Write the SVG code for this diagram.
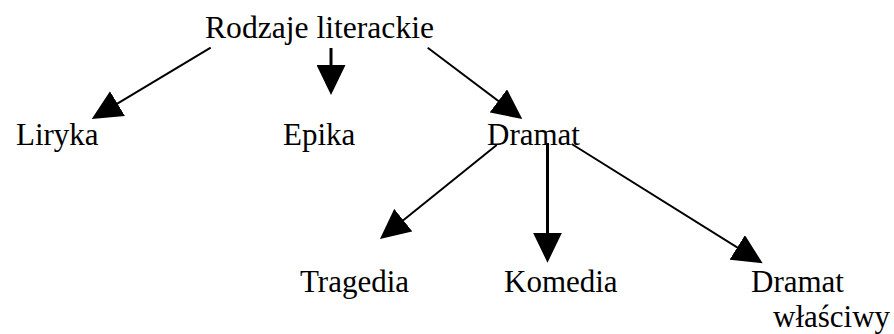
<svg xmlns="http://www.w3.org/2000/svg" width="894" height="334" viewBox="0 0 894 334">
<style>
text { font-family: "Liberation Serif", "Times New Roman", serif; font-size: 31px; fill: #000; }
.c { stroke: #000; stroke-width: 2; fill: none; marker-end: url(#ah); }
.v { stroke-width: 3; }
</style>
<defs>
<marker id="ah" markerUnits="userSpaceOnUse" markerWidth="30" markerHeight="29" refX="22" refY="14.5" orient="auto" viewBox="0 0 30 29">
<path d="M0,0 L30,14.5 L0,29 z" fill="#000"/>
</marker>
</defs>
<rect width="894" height="334" fill="#fff"/>
<g id="connectors">
<path class="c" d="M210.7,47.7 L98.6,114.9"/>
<path class="c v" d="M331,48 L331,87"/>
<path class="c" d="M427.7,47.7 L515.9,114.2"/>
<path class="c" d="M496.7,145 L386.2,234"/>
<path class="c v" d="M547.5,143 L547.5,254.7"/>
<path class="c" d="M571.7,144 L755.9,259.1"/>
</g>
<g id="rodzaje"><text x="205" y="38" textLength="229" lengthAdjust="spacingAndGlyphs">Rodzaje literackie</text></g>
<g id="liryka"><text x="16" y="145">Liryka</text></g>
<g id="epika"><text x="283" y="145">Epika</text></g>
<g id="dramat"><text x="487" y="145">Dramat</text></g>
<g id="tragedia"><text x="300" y="292">Tragedia</text></g>
<g id="komedia"><text x="504" y="292">Komedia</text></g>
<g id="dramat-wlasciwy"><text x="751" y="292">Dramat</text><text x="773" y="327">właściwy</text></g>
</svg>
